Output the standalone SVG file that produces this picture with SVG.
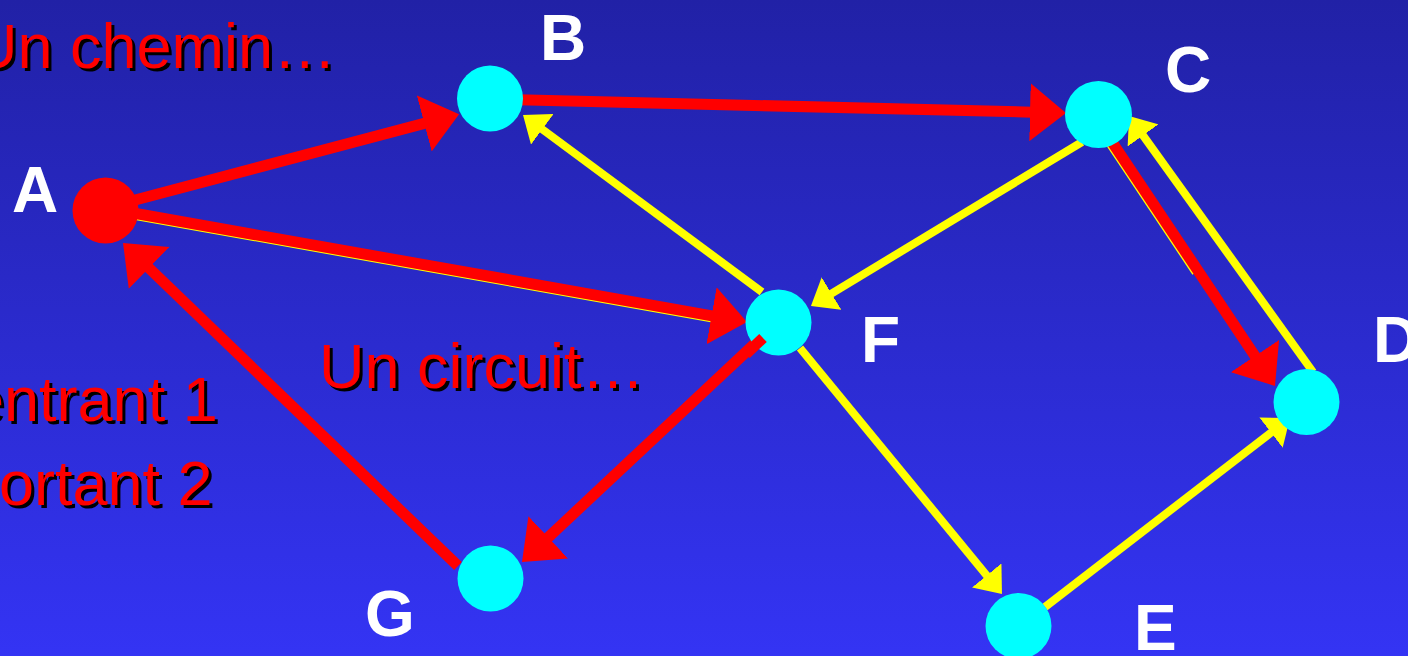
<svg xmlns="http://www.w3.org/2000/svg" width="1408" height="656" viewBox="0 0 1408 656">
  <defs>
    <linearGradient id="bg" x1="0" y1="0" x2="0" y2="1">
      <stop offset="0" stop-color="#2121A6"/>
      <stop offset="1" stop-color="#3434F4"/>
    </linearGradient>
    <marker id="ar" markerUnits="userSpaceOnUse" markerWidth="36" markerHeight="58" viewBox="0 0 36 58" refX="2" refY="29" orient="auto">
      <path d="M0,0L36,29L0,58z" fill="#FF0000"/>
    </marker>
    <marker id="ay" markerUnits="userSpaceOnUse" markerWidth="24" markerHeight="38" viewBox="0 0 24 38" refX="2" refY="19" orient="auto">
      <path d="M0,0L24,19L0,38z" fill="#FFFF00"/>
    </marker>
  </defs>
  <style>
    .red { stroke: #FF0000; stroke-width: 11; fill: none; marker-end: url(#ar); }
    .yel { stroke: #FFFF00; stroke-width: 8; fill: none; marker-end: url(#ay); }
    .under { stroke: #FFFF00; stroke-width: 11; fill: none; }
    .node { fill: #00FFFF; }
    .lbl { font-family: "Liberation Sans", Arial, sans-serif; font-weight: bold; font-size: 64px; fill: #FFFFFF; }
    .cap { font-family: "Liberation Sans", Arial, sans-serif; font-size: 63px; fill: #FF0000; }
    .sh { font-family: "Liberation Sans", Arial, sans-serif; font-size: 63px; fill: #000000; }
  </style>
  <rect width="1408" height="656" fill="url(#bg)"/>

  <g id="texts">
    <text class="sh" x="-25" y="71">Un chemin…</text>
    <text class="cap" x="-28" y="68">Un chemin…</text>
    <text class="sh" x="322" y="391">Un circuit…</text>
    <text class="cap" x="319" y="388">Un circuit…</text>
    <text class="sh" x="-28" y="424">entrant 1</text>
    <text class="cap" x="-31" y="421">entrant 1</text>
    <text class="sh" x="2" y="508">ortant 2</text>
    <text class="cap" x="-1" y="505">ortant 2</text>
  </g>

  <g id="connectors">
    <line class="under" x1="105" y1="209" x2="713" y2="317.1"/>
    <line class="under" x1="1111" y1="142.7" x2="1197" y2="271.6"/>
    <line class="red" x1="105" y1="208" x2="426.2" y2="122.9"/>
    <line class="red" x1="105" y1="208" x2="713.5" y2="316.1"/>
    <line class="red" x1="490" y1="99" x2="1032" y2="112.2"/>
    <line class="red" x1="1112" y1="142" x2="1256.1" y2="357.7"/>
    <line class="red" x1="778" y1="322" x2="546.8" y2="538.7"/>
    <line class="red" x1="458" y1="566" x2="147.5" y2="266.6"/>
    <line class="yel" x1="762" y1="292" x2="540.7" y2="128.1"/>
    <line class="yel" x1="1082" y1="142" x2="829.8" y2="294.6"/>
    <line class="yel" x1="1313" y1="372" x2="1141.9" y2="133.8"/>
    <line class="yel" x1="800" y1="348" x2="988" y2="577"/>
    <line class="yel" x1="1045" y1="607" x2="1272.6" y2="431.4"/>
  </g>

  <g id="node-A"><circle cx="105.5" cy="210.5" r="33" fill="#FF0000"/><text class="lbl" x="12" y="212">A</text></g>
  <g id="node-B"><circle class="node" cx="490" cy="98.5" r="33"/><text class="lbl" x="540" y="60">B</text></g>
  <g id="node-C"><circle class="node" cx="1098.5" cy="114.5" r="33.5"/><text class="lbl" x="1165" y="92">C</text></g>
  <g id="node-D"><circle class="node" cx="1306.5" cy="402" r="33"/><text class="lbl" x="1373" y="362">D</text></g>
  <g id="node-E"><circle class="node" cx="1018.5" cy="626" r="33"/><text class="lbl" x="1134" y="650">E</text></g>
  <g id="node-F"><circle class="node" cx="778.5" cy="322.5" r="33"/><text class="lbl" x="861" y="362">F</text></g>
  <g id="node-G"><circle class="node" cx="490.5" cy="578.5" r="33"/><text class="lbl" x="365" y="636">G</text></g>
  <line x1="763" y1="338" x2="746" y2="354" stroke="#FF0000" stroke-width="11"/>
</svg>
